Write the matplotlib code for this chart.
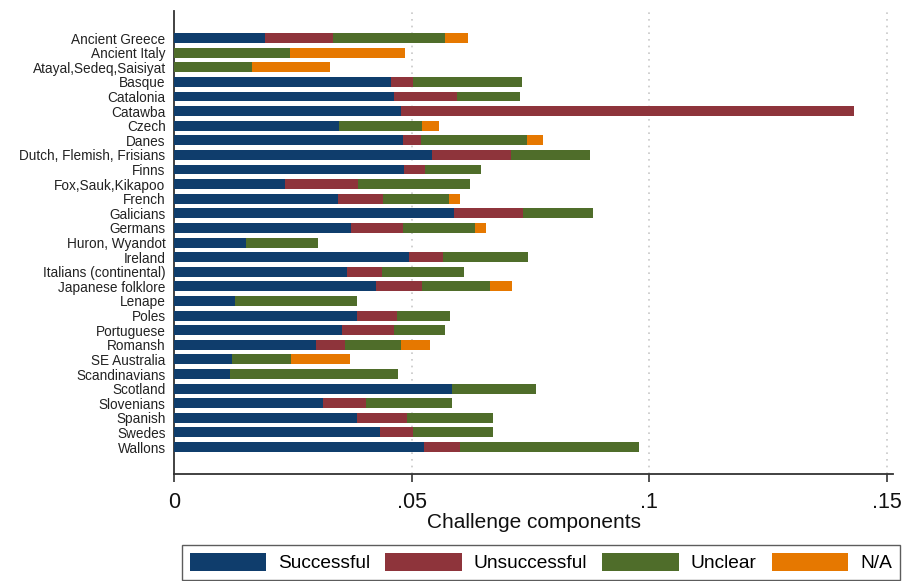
import numpy as np
import matplotlib.pyplot as plt
from matplotlib.patches import Patch

plt.rcParams["font.family"] = ["Liberation Sans", "DejaVu Sans"]

groups = [
    "Ancient Greece", "Ancient Italy", "Atayal,Sedeq,Saisiyat", "Basque",
    "Catalonia", "Catawba", "Czech", "Danes", "Dutch, Flemish, Frisians",
    "Finns", "Fox,Sauk,Kikapoo", "French", "Galicians", "Germans",
    "Huron, Wyandot", "Ireland", "Italians (continental)", "Japanese folklore",
    "Lenape", "Poles", "Portuguese", "Romansh", "SE Australia",
    "Scandinavians", "Scotland", "Slovenians", "Spanish", "Swedes", "Wallons",
]

# component shares per group
successful = [
    0.0191, 0.0, 0.0, 0.0456, 0.0462, 0.0477, 0.0347, 0.0481, 0.0542,
    0.0483, 0.0233, 0.0346, 0.0588, 0.0372, 0.0151, 0.0494, 0.0365, 0.0426,
    0.0128, 0.0386, 0.0354, 0.0299, 0.0122, 0.0117, 0.0585, 0.0313, 0.0386,
    0.0433, 0.0526,
]
unsuccessful = [
    0.0143, 0.0, 0.0, 0.0046, 0.0133, 0.0954, 0.0, 0.0038, 0.0166,
    0.0046, 0.0154, 0.0093, 0.0147, 0.0109, 0.0, 0.0072, 0.0073, 0.0095,
    0.0, 0.0084, 0.0108, 0.0060, 0.0, 0.0, 0.0, 0.0090, 0.0104,
    0.0069, 0.0075,
]
unclear = [
    0.0237, 0.0244, 0.0164, 0.0229, 0.0132, 0.0, 0.0174, 0.0223, 0.0168,
    0.0116, 0.0235, 0.0139, 0.0147, 0.0152, 0.0152, 0.0178, 0.0171, 0.0143,
    0.0257, 0.0110, 0.0109, 0.0119, 0.0124, 0.0354, 0.0176, 0.0181, 0.0180,
    0.0168, 0.0378,
]
not_available = [
    0.0047, 0.0243, 0.0164, 0.0, 0.0, 0.0, 0.0036, 0.0035, 0.0,
    0.0, 0.0, 0.0023, 0.0, 0.0023, 0.0, 0.0, 0.0, 0.0048,
    0.0, 0.0, 0.0, 0.0060, 0.0124, 0.0, 0.0, 0.0, 0.0,
    0.0, 0.0,
]

series = [
    ("Successful", successful, "#0f3d6c"),
    ("Unsuccessful", unsuccessful, "#8e343b"),
    ("Unclear", unclear, "#4f6d2a"),
    ("N/A", not_available, "#e67800"),
]

fig = plt.figure(figsize=(9.06, 5.81), dpi=100)
ax = fig.add_axes([0.192, 0.184, 0.794, 0.797])

y = np.arange(len(groups))
left = np.zeros(len(groups))
for name, vals, color in series:
    vals = np.asarray(vals)
    ax.barh(y, vals, left=left, height=0.68, color=color, label=name,
            edgecolor="none", zorder=3)
    left += vals

ax.set_ylim(len(groups) - 1 + 1.85, -1.85)
ax.set_xlim(0, 0.1513)
ax.set_yticks(y)
ax.set_yticklabels(groups, fontsize=9.8, color="#222222")
ax.tick_params(axis="y", length=0, pad=6)

ax.set_xticks([0, 0.05, 0.1, 0.15])
ax.set_xticklabels(["0", ".05", ".1", ".15"], fontsize=15.5, color="#111111")
ax.tick_params(axis="x", length=6, width=1.2, color="#333333", pad=7)
ax.set_xlabel("Challenge components", fontsize=15, color="#111111", labelpad=0)

for xv in [0.05, 0.1, 0.15]:
    ax.axvline(xv, color="#c8c8c8", linestyle=(0, (1, 3)), linewidth=1.2, zorder=1)

for side in ["top", "right"]:
    ax.spines[side].set_visible(False)
for side in ["left", "bottom"]:
    ax.spines[side].set_color("#333333")
    ax.spines[side].set_linewidth(1.3)

handles = [Patch(facecolor=c, edgecolor="none") for _, _, c in series]
labels = [n for n, _, _ in series]
fig.legend(
    handles, labels, loc="upper left", bbox_to_anchor=(182 / 906, 1 - 545 / 581),
    ncol=4, fontsize=13.8, frameon=True, fancybox=False, edgecolor="#333333",
    handlelength=4.0, handleheight=1.1, handletextpad=0.62, columnspacing=0.78,
    borderpad=0.4, borderaxespad=0,
)

fig.savefig("out.png", dpi=100)
